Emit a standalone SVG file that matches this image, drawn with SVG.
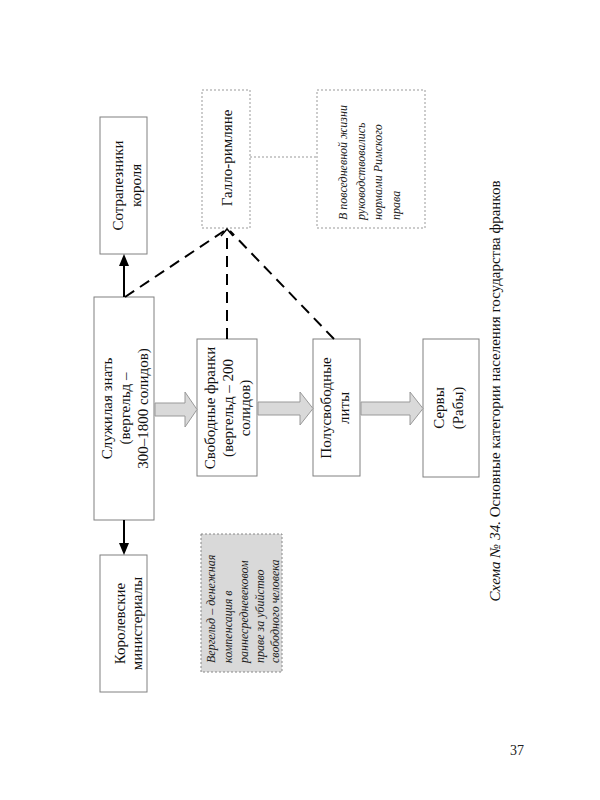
<svg xmlns="http://www.w3.org/2000/svg" width="600" height="800" viewBox="0 0 600 800">
<style>
.box{fill:#fff;stroke:#808080;stroke-width:1}
.dbox{fill:#fff;stroke:#999;stroke-width:1;stroke-dasharray:2,2}
.gbox{fill:#d9d9d9;stroke:#888;stroke-width:1;stroke-dasharray:2,2}
.t{font-family:"Liberation Serif","Times New Roman",serif;font-size:15px;fill:#111;text-anchor:middle}
.it{font-family:"Liberation Serif","Times New Roman",serif;font-size:12px;font-style:italic;fill:#222;text-anchor:start}
.dash{stroke:#000;stroke-width:2;stroke-dasharray:11,7;fill:none}
.blk{fill:#d9d9d9;stroke:#999;stroke-width:1}
</style>
<rect width="600" height="800" fill="#fff"/>
<g id="sotrapezniki">
<rect class="box" x="100" y="117" width="47" height="137"/>
<text class="t" transform="rotate(-90)"><tspan x="-185.5" y="123">Сотрапезники</tspan><tspan x="-185.5" y="141">короля</tspan></text>
</g>
<g id="gallo">
<rect class="dbox" x="202" y="90" width="48" height="138"/>
<text class="t" transform="rotate(-90)"><tspan x="-158" y="232">Галло-римляне</tspan></text>
</g>
<g id="note-roman">
<rect class="dbox" x="317" y="90" width="108" height="138"/>
<text class="it" transform="rotate(-90)"><tspan x="-220" y="347">В повседневной жизни</tspan><tspan x="-220" y="365">руководствовались</tspan><tspan x="-220" y="382">нормами Римского</tspan><tspan x="-220" y="400">права</tspan></text>
</g>
<g id="sluzhilaya">
<rect class="box" x="94" y="297" width="60" height="223"/>
<text class="t" transform="rotate(-90)"><tspan x="-408.5" y="112">Служилая знать</tspan><tspan x="-408.5" y="130">(вергельд –</tspan><tspan x="-408.5" y="148">300–1800 солидов)</tspan></text>
</g>
<g id="svobodnye">
<rect class="box" x="197" y="339" width="60" height="137"/>
<text class="t" transform="rotate(-90)"><tspan x="-408" y="215">Свободные франки</tspan><tspan x="-408" y="233">(вергельд – 200</tspan><tspan x="-408" y="250">солидов)</tspan></text>
</g>
<g id="lity">
<rect class="box" x="313" y="339" width="47" height="137"/>
<text class="t" transform="rotate(-90)"><tspan x="-408" y="331">Полусвободные</tspan><tspan x="-408" y="349">литы</tspan></text>
</g>
<g id="servy">
<rect class="box" x="423" y="339" width="56" height="138"/>
<text class="t" transform="rotate(-90)"><tspan x="-408" y="444">Сервы</tspan><tspan x="-408" y="463">(Рабы)</tspan></text>
</g>
<g id="ministerialy">
<rect class="box" x="100" y="555" width="47" height="137"/>
<text class="t" transform="rotate(-90)"><tspan x="-623.5" y="125">Королевские</tspan><tspan x="-623.5" y="142">министериалы</tspan></text>
</g>
<g id="note-vergeld">
<rect class="gbox" x="201" y="534" width="81" height="138"/>
<text class="it" transform="rotate(-90)"><tspan x="-663" y="215">Вергельд – денежная</tspan><tspan x="-663" y="232">компенсация в</tspan><tspan x="-663" y="248">раннесредневековом</tspan><tspan x="-663" y="264">праве за убийство</tspan><tspan x="-663" y="279">свободного человека</tspan></text>
</g>
<g id="connectors">
<line x1="124" y1="297" x2="124" y2="264" stroke="#000" stroke-width="2"/>
<polygon points="124,254 119,266 129,266" fill="#000"/>
<line x1="124" y1="520" x2="124" y2="545" stroke="#000" stroke-width="2"/>
<polygon points="124,555 119,543 129,543" fill="#000"/>
<line class="dash" x1="125" y1="297" x2="224" y2="231"/>
<line class="dash" x1="227" y1="339" x2="227" y2="232"/>
<line class="dash" x1="334" y1="339" x2="230" y2="231"/>
<polyline points="221,236 227,229 233,236" fill="none" stroke="#000" stroke-width="1.5"/>
<line x1="250" y1="157" x2="317" y2="157" stroke="#999" stroke-width="1" stroke-dasharray="2,2"/>
<polygon class="blk" points="155,403 185,403 185,392 197,409.5 185,427 185,416 155,416"/>
<polygon class="blk" points="258,402 300,402 300,392 313,408.5 300,425 300,415 258,415"/>
<polygon class="blk" points="361,402 410,402 410,392 423,408.5 410,425 410,415 361,415"/>
</g>
<text class="t" transform="rotate(-90)" x="-391" y="500"><tspan font-style="italic">Схема № 34.</tspan> Основные категории населения государства франков</text>
<text x="517" y="755" font-family="Liberation Serif, serif" font-size="14" text-anchor="middle" fill="#222">37</text>
</svg>
